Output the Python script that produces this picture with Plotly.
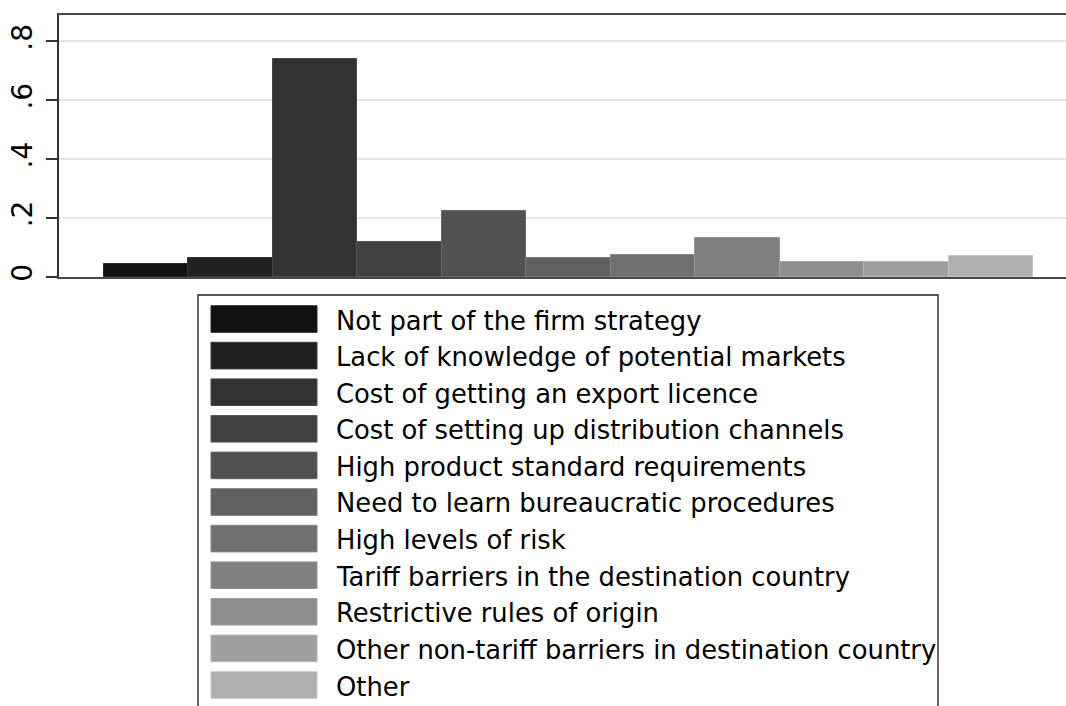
import plotly.graph_objects as go

# Reasons cited for not exporting (share of firms)
categories = [
    "Not part of the firm strategy",
    "Lack of knowledge of potential markets",
    "Cost of getting an export licence",
    "Cost of setting up distribution channels",
    "High product standard requirements",
    "Need to learn bureaucratic procedures",
    "High levels of risk",
    "Tariff barriers in the destination country",
    "Restrictive rules of origin",
    "Other non-tariff barriers in destination country",
    "Other",
]
shares = [0.044, 0.066, 0.740, 0.118, 0.225, 0.066, 0.076, 0.131, 0.050, 0.050, 0.070]
gray_levels = [17, 33, 50, 65, 81, 97, 112, 128, 143, 159, 175]
y_tick_values = [0, 0.2, 0.4, 0.6, 0.8]
y_tick_labels = ["0", ".2", ".4", ".6", ".8"]

W, H = 1066, 706
PLOT_L, PLOT_R, PLOT_T, PLOT_B = 59, 1066, 15, 277


def gray(v):
    return f"rgb({v},{v},{v})"


def paper_x(px):
    return (px - PLOT_L) / (PLOT_R - PLOT_L)


def paper_y(py):
    return (PLOT_B - py) / (PLOT_B - PLOT_T)


fill_colors = [gray(v) for v in gray_levels]
edge_colors = [gray(min(255, v + 22)) for v in gray_levels]

fig = go.Figure(
    go.Bar(
        x=categories,
        y=shares,
        width=1,
        marker=dict(color=fill_colors, line=dict(color=edge_colors, width=1)),
        showlegend=False,
        hoverinfo="x+y",
    )
)

fig.update_layout(
    width=W,
    height=H,
    autosize=False,
    margin=dict(l=PLOT_L, r=W - PLOT_R, t=PLOT_T, b=H - PLOT_B, pad=0),
    paper_bgcolor="white",
    plot_bgcolor="white",
    bargap=0,
    font=dict(family="DejaVu Sans", color="black"),
    xaxis=dict(
        range=[-1.0325, 10.89],
        showticklabels=False,
        ticks="",
        showgrid=False,
        zeroline=False,
        showline=True,
        linecolor="#4a4a4a",
        linewidth=2,
        mirror=True,
    ),
    yaxis=dict(
        range=[0, 0.89],
        tickvals=y_tick_values,
        ticktext=y_tick_labels,
        tickangle=-90,
        ticks="outside",
        ticklen=11,
        tickwidth=1.5,
        tickcolor="#333333",
        tickfont=dict(family="DejaVu Sans", size=28, color="black"),
        ticklabelstandoff=3,
        showgrid=True,
        gridcolor="#e6e6e6",
        gridwidth=2,
        zeroline=False,
        showline=True,
        linecolor="#333333",
        linewidth=2,
    ),
)

# Legend panel below the plot: framed box, one swatch and label per category
box_l, box_r, box_t, box_b = 198, 938, 295, 712
shapes = [
    dict(
        type="rect",
        xref="paper",
        yref="paper",
        x0=paper_x(box_l),
        x1=paper_x(box_r),
        y0=paper_y(box_b),
        y1=paper_y(box_t),
        line=dict(color="#555555", width=1.8),
        fillcolor="rgba(0,0,0,0)",
        layer="above",
    )
]
annotations = []
row_top, row_pitch, sw_h = 305.7, 36.6, 26.6
sw_l, sw_r, text_x = 211, 317, 334
for i, (label, fc, ec) in enumerate(zip(categories, fill_colors, edge_colors)):
    top = row_top + i * row_pitch
    shapes.append(
        dict(
            type="rect",
            xref="paper",
            yref="paper",
            x0=paper_x(sw_l),
            x1=paper_x(sw_r),
            y0=paper_y(top + sw_h),
            y1=paper_y(top),
            fillcolor=fc,
            line=dict(color=ec, width=1),
            layer="above",
        )
    )
    annotations.append(
        dict(
            xref="paper",
            yref="paper",
            x=paper_x(text_x),
            y=paper_y(top + sw_h / 2 + 1.5),
            text=label,
            showarrow=False,
            xanchor="left",
            yanchor="middle",
            font=dict(family="DejaVu Sans", size=25.8, color="black"),
        )
    )

fig.update_layout(shapes=shapes, annotations=annotations)

fig.write_html("out.html")
